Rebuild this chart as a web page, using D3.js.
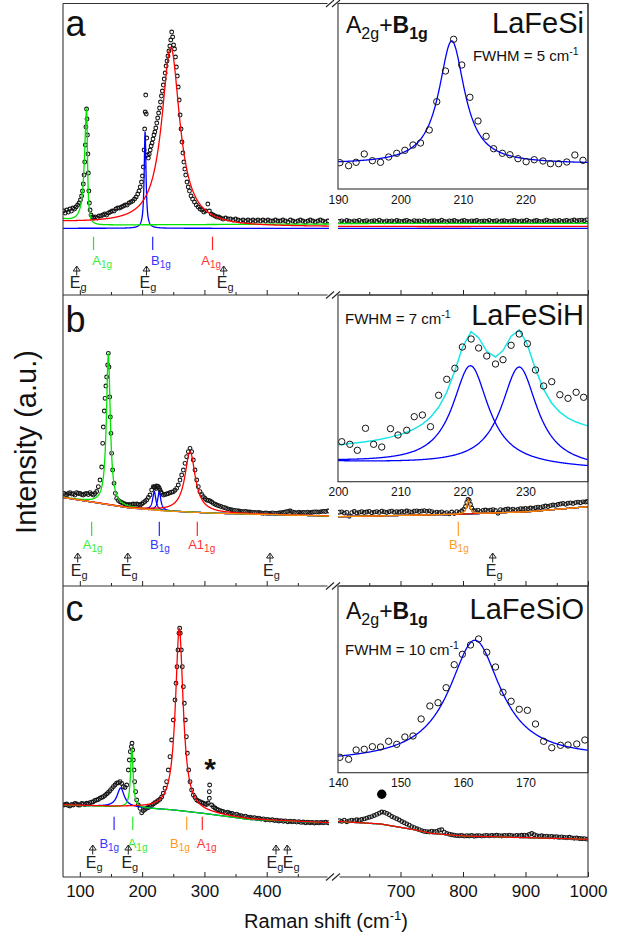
<!DOCTYPE html>
<html>
<head>
<meta charset="utf-8">
<script src="https://cdn.jsdelivr.net/npm/d3@7/dist/d3.min.js"></script>
<style>
  html, body { margin: 0; padding: 0; background: #fff; }
  svg { display: block; }
  text { font-family: "Liberation Sans", Arial, Helvetica, sans-serif; }
</style>
</head>
<body>
<svg id="chart" width="623" height="940"></svg>
<script>
// ---------------- measured spectra: [Raman shift (cm-1), intensity (a.u.)] ----------------
const specA_low = [[74,84],[76.5,82],[79,85],[81.5,83],[84,86],[86.5,84],[89,87],[91.5,86],[94,88],[96.5,90],[99,92],[101,95],[102.8,99],[104.3,104],[105.6,111],[106.8,120],[107.9,133],[108.9,150],[109.8,168],[110.8,186],[111.5,176],[112.2,160],[113,141],[113.7,122],[114.5,104],[115.4,92],[116.5,85],[118,80],[120,78],[122.5,77],[125,78],[128,77],[131,79],[134,79],[137,80],[140,81],[143,80],[146,82],[149,83],[152,84],[155,84],[158,86],[161,87],[164,87],[167,88],[170,89],[173,90],[176,90],[179,92],[182,93],[185,94],[188,96],[190.5,98],[193,101],[195,104],[197,108],[199,113],[200.5,119],[202,128],[203.2,145],[204.1,166],[205,183],[205.8,200],[206.6,181],[207.4,157],[208.5,140],[210,137],[211.5,141],[213,145],[214.5,149],[216,152],[217.5,156],[219,160],[220.5,163],[222,167],[223.5,172],[225,177],[226.5,182],[228,187],[229.5,193],[231,199],[232.5,204],[234,210],[235.5,216],[237,222],[238.5,229],[240,234],[241.5,239],[243,244],[244.5,249],[246,255],[247.5,263],[249,258],[250.5,250],[252,246],[253.5,238],[255,228],[256.5,219],[258,208],[259.5,195],[261,180],[262.5,166],[264,153],[265.5,142],[267,133],[268.5,126],[270,120],[272,113],[274,108],[276,104],[278.5,99],[281,96],[284,93],[287,90],[290,88],[293,86],[296,85],[299,83],[302,84],[305.5,91],[308,84],[311,81],[314,80],[317,79],[320,78],[323,78],[326,77],[330,76],[334,77],[338,76],[342,76],[346,75],[350,76],[354,75],[358,74],[362,75],[366,74],[370,75],[374,74],[378,75],[382,74],[386,75],[390,74],[394,75],[398,74],[402,75],[406,74],[410,74],[414,75],[418,74],[422,74],[426,75],[430,74],[434,73],[438,75],[442,74],[446,73],[450,74],[454,75],[458,74],[462,73],[466,74],[470,75],[474,74],[478,73],[482,74],[486,75],[490,74],[494,73],[498,74]];
const specA_high = [[602,73.6],[606,74.1],[610,73.2],[614,74.5],[618,73.8],[622,73.1],[626,74.2],[630,73.7],[634,74.6],[638,73.4],[642,73.9],[646,74.3],[650,73.2],[654,73.8],[658,74.4],[662,73.5],[666,74.8],[670,73.6],[674,73.1],[678,74.2],[682,73.7],[686,74.1],[690,73.3],[694,74.5],[698,73.9],[702,73.4],[706,74],[710,74.7],[714,73.5],[718,73.2],[722,74.3],[726,73.8],[730,74.1],[734,73.4],[738,74.6],[742,73.7],[746,73.3],[750,74],[754,74.4],[758,73.6],[762,73.9],[766,74.8],[770,73.5],[774,73.1],[778,74.2],[782,73.8],[786,74.5],[790,73.6],[794,73.2],[798,74],[802,74.6],[806,73.7],[810,73.4],[814,74.1],[818,73.9],[822,74.5],[826,73.3],[830,73.8],[834,74.2],[838,73.6],[842,74.7],[846,73.5],[850,73.9],[854,74.3],[858,73.2],[862,74],[866,74.4],[870,73.7],[874,73.3],[878,74.1],[882,74.6],[886,73.8],[890,73.4],[894,74.2],[898,73.9],[902,74.8],[906,73.6],[910,73.2],[914,74],[918,74.5],[922,73.7],[926,73.4],[930,74.1],[934,74.9],[938,73.8],[942,73.5],[946,74.3],[950,73.9],[954,74.6],[958,73.6],[962,74.2],[966,74.7],[970,73.8],[974,74.4],[978,75],[982,74.1],[986,74.6],[990,74.9],[994,74.3],[998,75.1]];

const specB_low = [[74.6,92.7],[77,91.5],[79,91],[81.5,92.5],[84.2,93.3],[87,92],[89.6,92.3],[92,91],[94.9,93.3],[97.5,92.5],[100.3,92.7],[103,91.5],[105.6,91],[108,92],[111,92.7],[113.5,91.5],[116.3,93.3],[119,92],[121.7,91],[124.5,92.5],[127,94.5],[129.7,99.3],[132.4,106],[135.1,119],[136.7,142.7],[137.7,159],[139.3,175],[140.4,187.7],[141.8,200],[143.1,209],[144.7,221],[145.8,232.7],[146.8,219],[147.9,189],[149,169],[150,152.7],[151.1,132.7],[152.7,116],[154.9,102.7],[157,92.7],[159.1,87.7],[161.8,85.5],[164.5,84.3],[167.2,83.5],[169.8,82.7],[172.5,82],[175.2,81],[177.9,81.5],[180.5,81],[183.2,81.5],[185.9,82],[188.5,81.7],[191.2,82],[193.9,81.5],[196.6,81],[199.3,82],[201.9,83.3],[204.6,84.5],[207.3,86],[210,88.5],[212.6,91],[215.3,96],[218,99.3],[219.5,99],[220.7,98.5],[222,97.5],[223.3,100],[224.7,99.5],[226,99.3],[227.4,98],[228.7,96],[230,94],[231.4,92.7],[234,91],[236.7,91.5],[239.4,92],[242,92.5],[244.7,93.3],[247.4,93.8],[250.1,94.3],[252.8,95.8],[255.4,97.7],[258.1,101],[260.8,106],[263.5,111],[266.2,116],[268.8,122.7],[271.5,129.3],[274.2,134.3],[276.9,137.7],[279.5,134.3],[282.2,126],[284.9,116],[287.6,106],[290.2,99.3],[292.9,94.3],[295.6,91.5],[298.3,89.3],[301,87.5],[303.6,86],[306.3,85.5],[309,85],[311.7,84],[314.3,82.7],[317,81.8],[319.7,81],[323,80.3],[326.5,79.5],[330.4,78.7],[334,78],[337.5,77.2],[341,76.7],[344.5,76],[348,75.6],[351.8,75.3],[355.3,75],[359,74.6],[362.5,74.3],[366,74.5],[369.7,74],[373.2,74],[376.8,73.7],[380.4,73.5],[383.9,73.3],[387.5,73.5],[391,73],[394.6,72.7],[398,73],[401.7,72.8],[405.3,72.7],[409,73.2],[412.5,72.6],[416,72.7],[419.5,73],[423,73.3],[426.7,73.5],[430,74],[433.8,74.5],[437.4,75],[441,74.2],[444.5,73.5],[448.1,73.2],[451.6,73.8],[455.2,73.4],[458.8,73.6],[462.3,73.3],[465.9,73.9],[469.5,73.4],[473,73.8],[476.6,74.1],[480.2,74],[483.8,73.9],[487.3,74.4],[490.9,74.7],[494.5,74.5],[498.5,75]];
const specB_high = [[602,73.8],[606,74.2],[610,72.9],[614,73.6],[618,69.8],[622,73.4],[626,74.5],[630,73.1],[634,73.7],[638,74.3],[642,73.5],[646,74],[650,74.6],[654,73.3],[658,73.9],[662,74.4],[666,73.6],[670,74.8],[674,74.1],[678,73.5],[682,74.3],[686,74.9],[690,73.8],[694,74.4],[698,74],[702,74.7],[706,74.2],[710,75],[714,74.4],[718,73.9],[722,74.8],[726,75.2],[730,74.5],[734,74.9],[738,75.4],[742,74.7],[746,75.1],[750,74.3],[754,73.2],[758,73.8],[762,73.4],[766,74.2],[770,72.6],[774,73.3],[778,72.1],[782,74],[786,72.4],[790,74.3],[794,73.5],[798,75],[801,76.5],[804,79.5],[806,83.5],[808,86.7],[810,85.5],[812,81.5],[814,78],[817,75.5],[820,75.2],[824,75.8],[828,74.4],[832,75.6],[836,76],[840,75.3],[844,75.9],[848,76.3],[852,75.5],[856,72.8],[860,76.4],[864,75.7],[868,76.5],[872,77],[876,76.2],[880,76.8],[884,75.9],[888,76.6],[892,77.3],[896,77],[900,77.6],[904,77.2],[908,78],[912,77.5],[916,78.3],[920,78.8],[924,78.4],[928,79.3],[932,80],[936,79.5],[940,80.4],[944,81],[948,80.6],[952,81.5],[956,82],[960,82.6],[964,81.8],[968,82.8],[972,83.2],[976,82.5],[980,83.4],[984,83.9],[988,83.3],[992,84.2],[996,84],[999,84.5]];

const specC_low = [[74.6,72],[77,72.5],[79,73],[81.5,71.5],[84.2,71],[87,72.5],[89.6,72],[92.3,73.5],[94.9,73],[97.5,72],[100.3,72],[103,73.5],[105.6,73],[108.3,72.5],[111,73.7],[113.7,73],[116.3,74.3],[119,74.8],[121.7,75.3],[124.3,76.5],[127,77],[129.7,77.5],[132.4,78.7],[135.1,79.5],[137.7,80.3],[140.4,81.5],[143.1,83],[145.8,84.5],[148.4,86.3],[151.1,88.3],[153.8,90.3],[156.4,92],[159.1,93.7],[161.8,94.3],[164.5,95.3],[167.2,93.5],[169.8,90.3],[172.5,89.5],[175.2,92],[177.9,107],[179.5,117],[181.1,125.3],[182.7,130.3],[183.8,133.7],[184.8,127],[185.9,117],[187,107],[188,95.3],[189.6,85.3],[191.2,77],[193.9,72],[196.6,68.7],[199.3,64.3],[201.9,66.3],[204.6,67.5],[207.3,68.7],[210,69.5],[212.6,70.3],[215.3,71.5],[218,73],[220.7,74.2],[223.3,75.3],[226,76.5],[228.7,77.7],[231.4,80],[234,83.7],[236.7,88.7],[239.4,95.3],[242.1,107],[244.7,120.3],[247.4,137],[250.1,157],[252.8,177],[254.4,193.7],[256,210.3],[257.6,227],[259.2,243.7],[260.3,248.7],[261.3,243.7],[262.9,227],[264.5,210.3],[266.2,190.3],[267.8,173.7],[269.4,157],[271,140.3],[272.6,123.7],[274.7,107],[276.9,95.3],[279.5,87],[282.2,82],[284.9,79.5],[287.6,77],[290.2,76],[292.9,75.3],[295.6,74.5],[298.3,73.7],[301,73],[303.6,72.5],[306,74],[307.9,78.7],[307.9,85.3],[308.4,92],[311.6,72],[314.3,70.3],[317,69],[319.7,67.7],[322.4,67],[325,66.3],[327.7,65.8],[330.4,65.3],[334,64.2],[337.5,64.8],[341,63.7],[344.5,63.5],[348,62.4],[351.8,62.8],[355.3,61.6],[359,61.2],[362.5,60.3],[366,60.8],[369.7,59.6],[373.2,59.9],[376.8,59.1],[380.4,59.4],[383.9,58.5],[387.5,58.8],[391,57.9],[394.6,58.1],[398,57.3],[401.7,57.6],[405.3,56.9],[409,57.2],[412.5,56.4],[416,56.8],[419.5,56],[423,56.4],[426.7,55.7],[430,56.1],[433.8,55.3],[437.4,55.8],[441,55.2],[444.5,55.6],[448.1,54.9],[451.6,55.4],[455.2,54.6],[458.8,55],[462.3,54.3],[465.9,54.8],[469.5,54.2],[473,54.6],[476.6,54],[480.2,54.5],[483.8,54.1],[487.3,54.6],[490.9,54.2],[494.5,54.7],[498.5,54.3]];
const specC_high = [[602,56.3],[606,55.6],[610,56.8],[614,55.3],[618,56.1],[622,56.9],[626,56.3],[630,57.2],[634,56.8],[638,57.5],[642,58.1],[646,58.9],[650,59.8],[654,60.4],[658,61.5],[662,62.6],[666,63.8],[670,65],[674,64.6],[678,63.6],[682,62.2],[686,60.5],[690,59.4],[694,58.2],[698,57],[702,55.5],[706,54.2],[710,53.1],[714,51.8],[718,50.4],[722,49.3],[726,48.2],[730,47.3],[734,46.4],[738,45.6],[742,45.3],[746,45],[750,45.8],[754,45.2],[758,45.6],[762,46.8],[766,47.2],[770,44.8],[774,43.6],[778,42.8],[782,42.2],[786,41.8],[790,41.4],[794,41.2],[798,41.5],[802,40.9],[806,41.3],[810,41],[814,41.5],[818,40.8],[822,41.2],[826,41.4],[830,40.9],[834,41.3],[838,41.6],[842,41.1],[846,41.5],[850,41.2],[854,41.7],[858,41.3],[862,41],[866,41.6],[870,41.3],[874,41.8],[878,41.4],[882,41.1],[886,41.6],[890,41.2],[894,41.7],[898,41.9],[902,41.5],[906,42.6],[910,43.5],[914,42.2],[918,41.4],[922,40.9],[926,41.2],[930,40.6],[934,40.8],[938,40.3],[942,40.6],[946,40],[950,40.3],[954,39.8],[958,40.1],[962,39.6],[966,39.3],[970,39.7],[974,39.1],[978,38.8],[982,39],[986,38.5],[990,38.2],[994,38.4],[998,37.9]];

// ---------------- inset spectra (A2g+B1g region) ----------------
const insetA_x = [190.3,191.7,192.9,194.2,195.5,196.8,198.1,199.4,200.7,202,203.2,204.6,205.8,207.2,208.5,209.8,211.1,212.4,213.7,214.9,216.3,217.5,218.8,220.1,221.4,222.8,224,225.3,226.6,227.9,229.2];
const insetA_y = [26.3,23.3,26.7,35,28.3,26.7,32,35.7,38.7,44,46,59,87.3,118,149.7,124,91.7,68,52.7,40.3,35.7,34.3,30.3,27.3,29.3,28,25.3,25.3,27,34,28.7];
const insetB_x = [200.6,201.9,203.1,204.4,205.7,207,208.4,209.6,211,212.2,213.5,214.8,216.1,217.4,218.7,219.9,221.3,222.5,223.8,225.2,226.4,227.7,229,230.3,231.6,232.9,234.2,235.5,236.8,238.1,239.3];
const insetB_y = [40,37.4,31.4,53.4,37.4,34.7,53,46.7,51.4,65,66.7,55,86.4,102.4,113.4,134.7,142.7,133.7,125.7,117.7,122,136.4,147.7,138,111.7,95.7,100,87,83.4,89.4,84.4];
const insetC_x = [140.3,141.7,142.9,144.2,145.5,146.8,148.1,149.4,150.7,152,153.3,154.7,156,157.3,158.6,159.9,161.2,162.5,163.8,165.2,166.4,167.7,169,170.3,171.6,172.9,174.2,175.6,176.8,178.2,179.5];
const insetC_y = [15.4,13.4,22.7,23.4,26,25.7,31.4,28.4,35.7,36.7,53.7,66.7,70,85,108,118.4,127.7,133.7,120.4,105.7,80.4,71.4,63.4,62.4,48.7,31.4,25,27.4,27.7,28.7,32.7];

// ---------------- Lorentzian fits: backgrounds [shift, level] and peaks [centre, amplitude, FWHM low side, FWHM high side] ----------------
const baseA_green = [[73,75.3],[105,71],[130,70],[500,71],[600,71.5],[1000,71.7]];
const peaksA_green = [[111,115,8.4,3.2]];
const baseA_blue = [[73,66.7],[1000,66.7]];
const peaksA_blue = [[204.8,96.6,3.5,3.5]];
const baseA_red = [[73,72.5],[350,68],[1000,68.5]];
const peaksA_red = [[246,178,35,35]];

const baseB = [[73,88.5],[180,78],[240,75],[320,72.7],[500,70],[600,69.3],[790,71.7],[905,74.3],[1000,79.3]];
const peaksB_green = [[145.8,150,7.5,7.5]];
const peaksB_blue1 = [[219.5,18.5,6,6]];
const peaksB_blue2 = [[227.5,18.5,6,6]];
const peaksB_red = [[277,60.5,20,20]];
const peaksB_orange = [[808.5,14,6,6]];

const baseC = [[73,72],[190,69.5],[250,67],[300,63.5],[373,57.5],[500,54.2],[600,55.5],[668,53],[720,47.5],[750,43.5],[800,41],[1000,37.7]];
const peaksC_blue = [[165.6,19,14,14]];
const peaksC_green = [[183.5,59,5,5]];
const peaksC_red = [[259.7,182,15,15]];

// inset fits (FWHM 5, 7 and 10 cm-1)
const insetA_base = [[190,25],[230,25]];
const insetA_peaks = [[208.2,123,5,5]];
const insetB_base = [[200,19.6],[240,12.8]];
const insetB_peak1 = [[221.2,100,7,7]];
const insetB_peak2 = [[229,100,7,7]];
const insetB_sumBase = [[200,33],[240,44]];
const insetB_sumPeaks = [[221.2,95,7,7],[229,95,7,7]];
const insetC_base = [[140,10.6],[180,14]];
const insetC_peaks = [[161.9,120,10,10]];

// ---------------- mode assignments below each spectrum ----------------
const modesA = [["A","1g",122,"green"],["B","1g",217,"blue"],["A","1g",313,"red"]];
const egA = [95,207,331];
const modesB = [["A","1g",119,"green"],["B","1g",227.6,"blue"],["A1","1g",288.6,"red"],["B","1g",792.5,"orange"]];
const egB = [96.6,176.9,405.3,847.5];
const modesC = [["B","1g",155,"blue"],["A","1g",185,"green"],["B","1g",271.6,"orange"],["A","1g",296.6,"red"]];
const egC = [120.7,177.8,414.9,433];

// axis ticks
const majorLow = [100,200,300,400], minorLow = [150,250,350,450];
const majorHigh = [700,800,900,1000], minorHigh = [650,750,850,950];

// ---------------- styling / layout ----------------
const lineColor = { green:"#00e400", blue:"#0000ff", red:"#ff0000", orange:"#ff8c00", cyan:"#19e6e6", purple:"#7a3cc8" };
const textColor = { green:"#38ec38", blue:"#3535ff", red:"#ff3535", orange:"#ff9a1c" };
const labelDx = { a:[8.7,8.3,-1.3], b:[1,0.7,4.4,0.5], c:[-4.8,4.8,-6.7,4.4] };
const FRAME_L = 63, FRAME_R = 588, SEG_L_END = 329, SEG_R_START = 338;

const svg = d3.select("#chart");
svg.append("rect").attr("width", 623).attr("height", 940).attr("fill", "#fff");
const defs = svg.append("defs");

const xLow = d3.scaleLinear().domain([73, 500]).range([FRAME_L, SEG_L_END]);
const xHigh = d3.scaleLinear().domain([600, 1000]).range([SEG_R_START, FRAME_R]);
const xAt = s => (s >= 550 ? xHigh(s) : xLow(s));

const lorentz = (x, p) => { const g = (x < p[0] ? p[2] : p[3]) / 2; return p[1] * g * g / ((x - p[0]) * (x - p[0]) + g * g); };
function model(base, peaks) {
  const b = d3.scaleLinear().domain(base.map(d => d[0])).range(base.map(d => d[1])).clamp(true);
  return x => b(x) + d3.sum(peaks, p => lorentz(x, p));
}
function sample(f, x0, x1, step) {
  const pts = [];
  for (let x = x0; x <= x1 + 1e-9; x += step) pts.push([x, f(x)]);
  return pts;
}

const panels = [
  { key:"a", top:3.5, bottom:295, low:specA_low, high:specA_high,
    fits:[{c:"blue",b:baseA_blue,p:peaksA_blue},{c:"green",b:baseA_green,p:peaksA_green},{c:"red",b:baseA_red,p:peaksA_red}],
    modes:modesA, eg:egA, lay:{t0:-58.3,t1:-45,label:-30,arrow:-29,eg:-7}, letter:36 },
  { key:"b", top:295, bottom:586, low:specB_low, high:specB_high,
    fits:[{c:"purple",b:baseB,p:[]},{c:"blue",b:baseB,p:peaksB_blue1},{c:"blue",b:baseB,p:peaksB_blue2},{c:"green",b:baseB,p:peaksB_green},{c:"red",b:baseB,p:peaksB_red},{c:"orange",b:baseB,p:peaksB_orange}],
    modes:modesB, eg:egB, lay:{t0:-64.3,t1:-50,label:-37.5,arrow:-33,eg:-10.5}, letter:331.7 },
  { key:"c", top:586, bottom:877, low:specC_low, high:specC_high,
    fits:[{c:"blue",b:baseC,p:peaksC_blue},{c:"green",b:baseC,p:peaksC_green},{c:"red",b:baseC,p:peaksC_red}],
    modes:modesC, eg:egC, lay:{t0:-60.3,t1:-47,label:-28.7,arrow:-32,eg:-8.7}, letter:620.5 }
];

panels.forEach(p => {
  const y = d3.scaleLinear().domain([0, p.bottom - p.top]).range([p.bottom, p.top]);
  const g = svg.append("g");
  [["low", xLow, FRAME_L, SEG_L_END], ["high", xHigh, SEG_R_START, FRAME_R]].forEach(([seg, x, x0, x1]) => {
    const id = `clip-${p.key}-${seg}`;
    defs.append("clipPath").attr("id", id).append("rect")
      .attr("x", x0).attr("y", p.top).attr("width", x1 - x0).attr("height", p.bottom - p.top);
    const sg = g.append("g").attr("clip-path", `url(#${id})`);
    sg.append("g").selectAll("circle").data(p[seg]).join("circle")
      .attr("cx", d => x(d[0])).attr("cy", d => y(d[1])).attr("r", 1.9)
      .attr("fill", "none").attr("stroke", "#151515").attr("stroke-width", 1.05);
    const [d0, d1] = x.domain();
    p.fits.forEach(f => {
      sg.append("path").datum(sample(model(f.b, f.p), d0, d1, 0.2))
        .attr("d", d3.line().x(d => x(d[0])).y(d => y(d[1])))
        .attr("fill", "none").attr("stroke", lineColor[f.c]).attr("stroke-width", 1.3);
    });
  });

  // inward ticks on the lower edge
  [[xLow, majorLow, 5], [xLow, minorLow, 3], [xHigh, majorHigh, 5], [xHigh, minorHigh, 3]].forEach(([x, vals, len]) => {
    const ax = g.append("g").attr("transform", `translate(0,${p.bottom})`)
      .call(d3.axisTop(x).tickValues(vals).tickSize(len).tickFormat(""));
    ax.select(".domain").remove();
    ax.selectAll("line").attr("stroke", "#222").attr("stroke-width", 1);
  });

  // mode assignment markers
  const lay = p.lay;
  p.modes.forEach((m, i) => {
    const xt = xAt(m[2]);
    g.append("line").attr("x1", xt).attr("x2", xt)
      .attr("y1", p.bottom + lay.t0).attr("y2", p.bottom + lay.t1)
      .attr("stroke", lineColor[m[3]]).attr("stroke-width", 1.2).attr("opacity", 0.85);
    const t = g.append("text").attr("x", xt + labelDx[p.key][i]).attr("y", p.bottom + lay.label)
      .attr("text-anchor", "middle").attr("fill", textColor[m[3]]).style("font-size", "13px");
    t.append("tspan").text(m[0]);
    t.append("tspan").attr("dy", 3).style("font-size", "10px").text(m[1]);
  });
  p.eg.forEach((s, i) => {
    const xe = xAt(s), ya = p.bottom + lay.arrow;
    // neighbouring Eg labels that sit very close are nudged apart
    const prev = i > 0 ? xAt(p.eg[i - 1]) : -1e9, next = i < p.eg.length - 1 ? xAt(p.eg[i + 1]) : 1e9;
    const nudge = (next - xe < 14 ? -2.5 : 0) + (xe - prev < 14 ? 2.5 : 0);
    g.append("path")
      .attr("d", `M${xe},${ya}V${ya + 9.5}M${xe - 3.5},${ya + 5}L${xe},${ya}L${xe + 3.5},${ya + 5}Z`)
      .attr("fill", "none").attr("stroke", "#222").attr("stroke-width", 1);
    const t = g.append("text").attr("x", xe + 1.5 + nudge).attr("y", p.bottom + lay.eg)
      .attr("text-anchor", "middle").attr("fill", "#222").style("font-size", "16px");
    t.append("tspan").text("E");
    t.append("tspan").attr("dy", 3).style("font-size", "11px").text("g");
  });

  svg.append("text").attr("x", 65.5).attr("y", p.letter).attr("fill", "#111")
    .style("font-size", "36px").text(p.key);
});

// ---------------- insets ----------------
const insets = [
  { top:3.5, bottom:189, domain:[190,230], ticks:[190,200,210,220], xs:insetA_x, ys:insetA_y,
    fits:[{c:"blue",b:insetA_base,p:insetA_peaks}] },
  { top:295, bottom:481.7, domain:[200,240], ticks:[200,210,220,230], xs:insetB_x, ys:insetB_y,
    fits:[{c:"blue",b:insetB_base,p:insetB_peak1},{c:"blue",b:insetB_base,p:insetB_peak2}],
    sum:{c:"cyan",b:insetB_sumBase,p:insetB_sumPeaks} },
  { top:586, bottom:772.7, domain:[140,180], ticks:[140,150,160,170], xs:insetC_x, ys:insetC_y,
    fits:[{c:"blue",b:insetC_base,p:insetC_peaks}] }
];
insets.forEach((ins, k) => {
  const x = d3.scaleLinear().domain(ins.domain).range([SEG_R_START, FRAME_R]);
  const y = d3.scaleLinear().domain([0, ins.bottom - ins.top]).range([ins.bottom, ins.top]);
  const g = svg.append("g");
  g.append("rect").attr("x", SEG_R_START).attr("y", ins.top)
    .attr("width", FRAME_R - SEG_R_START).attr("height", ins.bottom - ins.top).attr("fill", "#fff");
  const id = `clip-inset-${k}`;
  defs.append("clipPath").attr("id", id).append("rect").attr("x", SEG_R_START).attr("y", ins.top)
    .attr("width", FRAME_R - SEG_R_START).attr("height", ins.bottom - ins.top);
  const cg = g.append("g").attr("clip-path", `url(#${id})`);
  const line = d3.line().x(d => x(d[0])).y(d => y(d[1]));
  ins.fits.forEach(f => {
    cg.append("path").datum(sample(model(f.b, f.p), ins.domain[0], ins.domain[1], 0.1)).attr("d", line)
      .attr("fill", "none").attr("stroke", lineColor[f.c]).attr("stroke-width", 1.3);
  });
  if (ins.sum) {
    const fs = model(ins.sum.b, ins.sum.p);
    const pts = [ins.domain[0], ...ins.xs, ins.domain[1]].map(v => [v, fs(v)]);
    cg.append("path").datum(pts).attr("d", line)
      .attr("fill", "none").attr("stroke", lineColor[ins.sum.c]).attr("stroke-width", 1.5);
  }
  cg.append("g").selectAll("circle").data(ins.xs.map((v, i) => [v, ins.ys[i]])).join("circle")
    .attr("cx", d => x(d[0])).attr("cy", d => y(d[1])).attr("r", 3.2)
    .attr("fill", "none").attr("stroke", "#151515").attr("stroke-width", 1);
  g.append("rect").attr("x", SEG_R_START).attr("y", ins.top)
    .attr("width", FRAME_R - SEG_R_START).attr("height", ins.bottom - ins.top)
    .attr("fill", "none").attr("stroke", "#333").attr("stroke-width", 1.1);
  const ax = g.append("g").attr("transform", `translate(0,${ins.bottom})`)
    .call(d3.axisBottom(x).tickValues(ins.ticks).tickSize(0).tickPadding(6).tickFormat(d3.format("d")));
  ax.select(".domain").remove();
  ax.selectAll("text").style("font-size", "12px").attr("fill", "#111")
    .style("font-family", '"Liberation Sans", Arial, sans-serif');
});

// inset annotations
function compound(g, xPos, yPos, anchor) {
  const t = g.append("text").attr("x", xPos).attr("y", yPos).attr("text-anchor", anchor).attr("fill", "#111").style("font-size", "23px");
  t.append("tspan").text("A");
  t.append("tspan").attr("dy", 6).style("font-size", "16px").text("2g");
  t.append("tspan").attr("dy", -6).text("+");
  t.append("tspan").style("font-weight", "bold").text("B");
  t.append("tspan").attr("dy", 6).style("font-size", "16px").style("font-weight", "bold").text("1g");
}
function fwhm(g, xPos, yPos, anchor, value) {
  const t = g.append("text").attr("x", xPos).attr("y", yPos).attr("text-anchor", anchor).attr("fill", "#111").style("font-size", "15px");
  t.append("tspan").text(`FWHM = ${value} cm`);
  t.append("tspan").attr("dy", -6).style("font-size", "10.5px").text("-1");
}
const ann = svg.append("g");
compound(ann, 346, 33.3, "start");
ann.append("text").attr("x", 584).attr("y", 33.3).attr("text-anchor", "end").attr("fill", "#111").style("font-size", "29px").text("LaFeSi");
fwhm(ann, 578.5, 61, "end", 5);
fwhm(ann, 345, 324, "start", 7);
ann.append("text").attr("x", 584).attr("y", 325).attr("text-anchor", "end").attr("fill", "#111").style("font-size", "29px").text("LaFeSiH");
compound(ann, 346, 619, "start");
ann.append("text").attr("x", 584).attr("y", 619).attr("text-anchor", "end").attr("fill", "#111").style("font-size", "29px").text("LaFeSiO");
fwhm(ann, 345, 655, "start", 10);

// extra features in panel c: impurity line (*) and broad band (●)
const yC = d3.scaleLinear().domain([0, 291]).range([877, 586]);
ann.append("text").attr("x", xLow(309)).attr("y", yC(115.3) + 17).attr("text-anchor", "middle")
  .attr("fill", "#111").style("font-size", "30px").style("font-weight", "bold").text("*");
ann.append("circle").attr("cx", xHigh(670)).attr("cy", yC(82.7)).attr("r", 4.7).attr("fill", "#000");

// ---------------- frame with axis breaks ----------------
const frame = svg.append("g").attr("stroke", "#333").attr("stroke-width", 1.1).attr("fill", "none");
frame.append("line").attr("x1", FRAME_L).attr("x2", FRAME_L).attr("y1", 3.5).attr("y2", 877);
frame.append("line").attr("x1", FRAME_R).attr("x2", FRAME_R).attr("y1", 3.5).attr("y2", 877);
[3.5, 295, 586, 877].forEach(yy => {
  frame.append("line").attr("x1", FRAME_L).attr("x2", 327.5).attr("y1", yy).attr("y2", yy);
  frame.append("line").attr("x1", 339.5).attr("x2", FRAME_R).attr("y1", yy).attr("y2", yy);
  [330, 336].forEach(xc => {
    frame.append("line").attr("x1", xc - 4).attr("y1", yy + 3.5).attr("x2", xc + 4).attr("y2", yy - 3.5)
      .attr("stroke", "#222");
  });
});

// bottom axis labels
[[xLow, majorLow], [xHigh, majorHigh]].forEach(([x, vals]) => {
  const ax = svg.append("g").attr("transform", "translate(0,877)")
    .call(d3.axisBottom(x).tickValues(vals).tickSize(0).tickPadding(8).tickFormat(d3.format("d")));
  ax.select(".domain").remove();
  ax.selectAll("text").style("font-size", "17px").attr("fill", "#111")
    .style("font-family", '"Liberation Sans", Arial, sans-serif');
});

// axis titles
const xt = svg.append("text").attr("x", 326).attr("y", 928).attr("text-anchor", "middle")
  .attr("fill", "#111").style("font-size", "20px");
xt.append("tspan").text("Raman shift (cm");
xt.append("tspan").attr("dy", -8).style("font-size", "13px").text("-1");
xt.append("tspan").attr("dy", 8).text(")");
svg.append("text").attr("transform", "translate(36,442) rotate(-90)").attr("text-anchor", "middle")
  .attr("fill", "#111").style("font-size", "29px").text("Intensity (a.u.)");
</script>
</body>
</html>
